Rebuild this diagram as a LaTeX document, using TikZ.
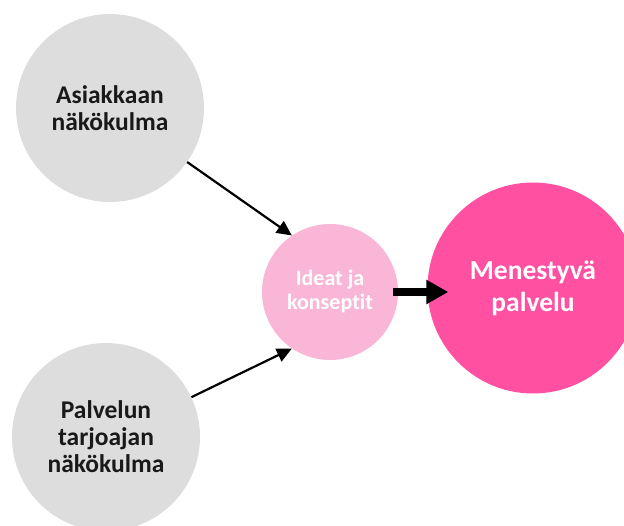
\documentclass[tikz,border=0pt]{standalone}
\usepackage{fontspec}
\setmainfont[Ligatures=NoCommon]{Carlito}
\usetikzlibrary{arrows.meta}

\definecolor{lightgrey}{RGB}{221,221,221}
\definecolor{lightpink}{RGB}{249,182,214}
\definecolor{hotpink}{RGB}{255,80,162}

\tikzset{
	view/.style={circle, fill=lightgrey, minimum size=188pt, inner sep=0pt,
		align=center, font=\bfseries\fontsize{25.5}{27}\selectfont, text=black!90},
	idea/.style={circle, fill=lightpink, minimum size=136pt, inner sep=0pt,
		align=center, font=\bfseries\fontsize{22}{24}\selectfont, text=white},
	result/.style={circle, fill=hotpink, minimum size=211pt, inner sep=0pt,
		align=center, font=\bfseries\fontsize{27.5}{32}\selectfont, text=white},
	thin arrow/.style={line width=2.2pt, -{Triangle[length=15pt, width=14pt]}},
	thick arrow/.style={line width=8pt, -{Triangle[length=22pt, width=23pt]}}
}

\begin{document}
\begin{tikzpicture}[x=1pt, y=-1pt]
		\useasboundingbox (0,0) rectangle (624,525);
		\clip (0,0) rectangle (624,525);
		% perspectives
		\node [view] (asiakas) at (110,108) {Asiakkaan\\näkökulma};
		\node [view] (tarjoaja) at (106,437) {Palvelun\\tarjoajan\\näkökulma};
		% ideas and result
		\node [idea] (ideat) at (330,292) {Ideat ja\\konseptit};
		\node [result] (palvelu) at (533,288) {Menestyvä\\palvelu};
		% connectors
		\draw [thin arrow] (asiakas.-35) -- (ideat.124);
		\draw [thin arrow] (tarjoaja.25) -- (ideat.236);
		\draw [thick arrow, shorten <=-5pt, shorten >=-21pt] (ideat.east) -- (ideat.east -| palvelu.west);
	\end{tikzpicture}
\end{document}
